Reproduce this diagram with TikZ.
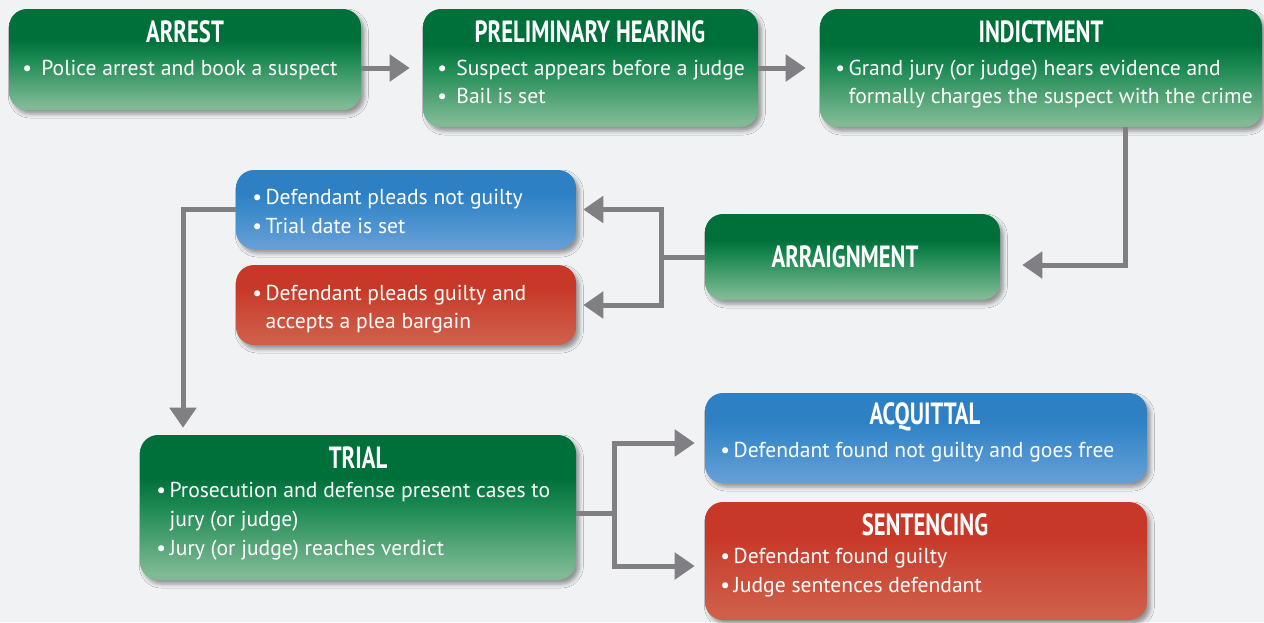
\documentclass[tikz,border=0pt]{standalone}
\usepackage{fontspec}
\setmainfont{PT Sans}
\newfontfamily\ttlfont{PT Sans}[FakeStretch=0.74]
\usetikzlibrary{arrows.meta,shadows.blur}
\definecolor{bg}{RGB}{241,242,244}
\definecolor{agray}{RGB}{128,128,132}
\definecolor{gTop}{RGB}{0,112,58}
\definecolor{gMid}{RGB}{30,138,84}
\definecolor{gBot}{RGB}{128,186,148}
\definecolor{bTop}{RGB}{46,128,196}
\definecolor{bMid}{RGB}{60,138,202}
\definecolor{bBot}{RGB}{100,158,214}
\definecolor{rTop}{RGB}{200,56,40}
\definecolor{rMid}{RGB}{202,70,52}
\definecolor{rBot}{RGB}{206,96,74}
\pgfdeclareverticalshading{gshade}{100bp}{color(0bp)=(gBot); color(27bp)=(gBot); color(50bp)=(gMid); color(60bp)=(gTop); color(100bp)=(gTop)}
\pgfdeclareverticalshading{bshade}{100bp}{color(0bp)=(bBot); color(27bp)=(bBot); color(50bp)=(bMid); color(60bp)=(bTop); color(100bp)=(bTop)}
\pgfdeclareverticalshading{rshade}{100bp}{color(0bp)=(rBot); color(27bp)=(rBot); color(50bp)=(rMid); color(60bp)=(rTop); color(100bp)=(rTop)}
\tikzset{
  box/.style={rounded corners=13.5pt, inner sep=0pt, shade,
    blur shadow={shadow xshift=2.5pt, shadow yshift=-3pt, shadow blur radius=3pt, shadow opacity=40}},
  gbox/.style={box, shading=gshade},
  bbox/.style={box, shading=bshade},
  rbox/.style={box, shading=rshade},
  ttl/.style={text=white, font=\ttlfont\bfseries\fontsize{23}{23}\selectfont, anchor=base, inner sep=0pt},
  body/.style={text=white, font=\fontsize{16.2}{19}\selectfont, anchor=base west, inner sep=0pt},
  lnk/.style={draw=agray, line width=3.75pt},
  arr/.style={lnk, -{Triangle[length=15pt,width=19.5pt]}},
}
\newcommand\ind{\phantom{•\,}}
\begin{document}
\begin{tikzpicture}[x=0.75pt,y=-0.75pt]
\fill[bg] (0,0) rectangle (1264,622);
\useasboundingbox (0,0) rectangle (1264,622);
% boxes
\node[gbox, minimum width=352*0.75pt, minimum height=101*0.75pt] (arrest) at (185,59.5) {};
\node[gbox, minimum width=335*0.75pt, minimum height=118*0.75pt] (prelim) at (590.5,68) {};
\node[gbox, minimum width=442*0.75pt, minimum height=118*0.75pt] (indict) at (1041,68) {};
\node[bbox, minimum width=340*0.75pt, minimum height=79*0.75pt] (plea1) at (406,209.5) {};
\node[rbox, minimum width=340*0.75pt, minimum height=80*0.75pt] (plea2) at (406,305) {};
\node[gbox, minimum width=295*0.75pt, minimum height=86*0.75pt] (arraign) at (852.5,257) {};
\node[gbox, minimum width=436*0.75pt, minimum height=145*0.75pt] (trial) at (358,507.5) {};
\node[bbox, minimum width=442*0.75pt, minimum height=90*0.75pt] (acq) at (926,438) {};
\node[rbox, minimum width=442*0.75pt, minimum height=118*0.75pt] (sent) at (926,561) {};
% titles
\node[ttl] (arrest-t) at (185,42) {ARREST};
\node[ttl] (prelim-t) at (590,42) {PRELIMINARY HEARING};
\node[ttl] (indict-t) at (1041,42) {INDICTMENT};
\node[ttl] (arraign-t) at (845,267) {ARRAIGNMENT};
\node[ttl] (trial-t) at (358,468) {TRIAL};
\node[ttl] (acq-t) at (925,424) {ACQUITTAL};
\node[ttl] (sent-t) at (925,535) {SENTENCING};
% body text
\node[body] (arrest-b1) at (22,75) {•\, Police arrest and book a suspect};
\node[body] (prelim-b1) at (437,75) {•\, Suspect appears before a judge};
\node[body] (prelim-b2) at (437,103) {•\, Bail is set};
\node[body] (indict-b1) at (835,75) {•\,Grand jury (or judge) hears evidence and};
\node[body] (indict-b2) at (835,103) {\ind formally charges the suspect with the crime};
\node[body] (plea1-b1) at (252,204) {•\,Defendant pleads not guilty};
\node[body] (plea1-b2) at (252,233) {•\,Trial date is set};
\node[body] (plea2-b1) at (252,300) {•\,Defendant pleads guilty and};
\node[body] (plea2-b2) at (252,328) {\ind accepts a plea bargain};
\node[body] (trial-b1) at (156,497) {•\,Prosecution and defense present cases to};
\node[body] (trial-b2) at (156,526) {\ind jury (or judge)};
\node[body] (trial-b3) at (156,555) {•\,Jury (or judge) reaches verdict};
\node[body] (acq-b1) at (720,457) {•\,Defendant found not guilty and goes free};
\node[body] (sent-b1) at (720,563) {•\,Defendant found guilty};
\node[body] (sent-b2) at (720,592) {•\,Judge sentences defendant};
% connectors
\coordinate (ci) at (1125,265);
\coordinate (ja) at (661,257);
\coordinate (cp) at (183,209);
\coordinate (jt) at (614,513);
\coordinate (ya) at (614,443);
\coordinate (ys) at (614,566);
\draw[arr, shorten >=9.75pt] (arrest.east |- prelim.west) -- (prelim.west);
\draw[arr, shorten >=10.5pt] (prelim.east) -- (indict.west);
\draw[arr, shorten >=16.5pt] (indict.south -| ci) -- (ci) -- (arraign.east |- ci);
\draw[lnk] (arraign.west) -- (ja);
\draw[arr, shorten >=5.25pt] (ja) |- (plea1.east);
\draw[arr, shorten >=5.25pt] (ja) |- (plea2.east);
\draw[arr, shorten >=5.25pt] (plea1.west) -| (trial.north -| cp);
\draw[lnk] (trial.east |- jt) -- (jt);
\draw[arr, shorten >=7.5pt] (jt) -- (ya) -- (acq.west |- ya);
\draw[arr, shorten >=7.5pt] (jt) -- (ys) -- (sent.west |- ys);
\end{tikzpicture}
\end{document}
